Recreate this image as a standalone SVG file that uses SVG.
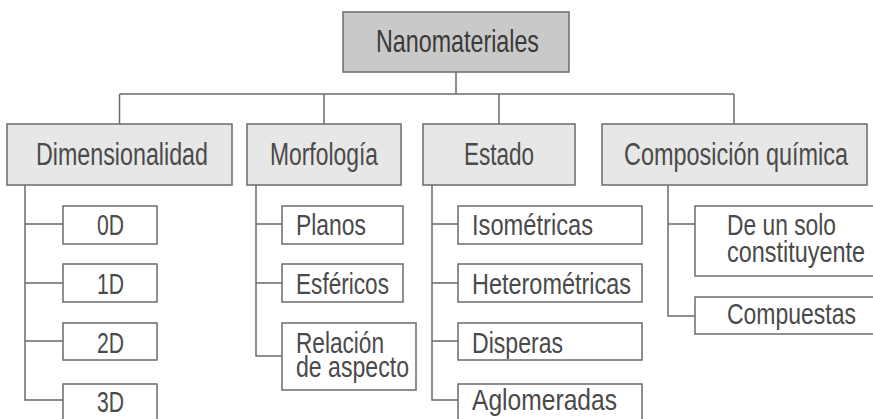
<svg xmlns="http://www.w3.org/2000/svg" width="873" height="419" viewBox="0 0 873 419">
<style>
.b{stroke:#6b6b6b;stroke-width:1.5;fill:#fff}
.top{fill:#c9c9c9}
.l2{fill:#e6e7e6}
.c line,.c path{stroke:#6b6b6b;stroke-width:1.5;fill:none}
text{font-family:"Liberation Sans Narrow","Liberation Sans",Arial,sans-serif;fill:#4a4a4a;font-size:29px}
.t2{font-size:31px}
.t1{font-size:32px;fill:#3a3a3a}
</style>
<rect width="873" height="419" fill="#fff"/>
<g class="c" id="connectors">
<line x1="456" y1="72" x2="456" y2="94"/>
<line x1="119.5" y1="94" x2="734" y2="94"/>
<line x1="119.5" y1="94" x2="119.5" y2="124"/>
<line x1="324" y1="94" x2="324" y2="124"/>
<line x1="499" y1="94" x2="499" y2="124"/>
<line x1="734" y1="94" x2="734" y2="124"/>
<path d="M25 185V400H63M25 224H63M25 283H63M25 341H63"/>
<path d="M256 185V356H282M256 224H282M256 283H282"/>
<path d="M432 185V400H458M432 224H458M432 283H458M432 341H458"/>
<path d="M668 185V316H695M668 224H695"/>
</g>
<g id="n-nanomateriales"><rect class="b top" x="343" y="12" width="226" height="60"/><text class="t1" x="376" y="52" textLength="163" lengthAdjust="spacingAndGlyphs">Nanomateriales</text></g>
<g id="n-dimensionalidad"><rect class="b l2" x="7" y="124" width="225" height="61"/><text class="t2" x="36" y="165" textLength="172" lengthAdjust="spacingAndGlyphs">Dimensionalidad</text></g>
<g id="n-morfologia"><rect class="b l2" x="247" y="124" width="154" height="61"/><text class="t2" x="270" y="165" textLength="108" lengthAdjust="spacingAndGlyphs">Morfología</text></g>
<g id="n-estado"><rect class="b l2" x="423" y="124" width="152" height="61"/><text class="t2" x="464" y="165" textLength="70" lengthAdjust="spacingAndGlyphs">Estado</text></g>
<g id="n-composicion"><rect class="b l2" x="602" y="124" width="265" height="61"/><text class="t2" x="624" y="165" textLength="224" lengthAdjust="spacingAndGlyphs">Composición química</text></g>
<g id="n-0d"><rect class="b" x="63" y="206" width="94" height="38"/><text x="110.5" y="235" text-anchor="middle" textLength="27" lengthAdjust="spacingAndGlyphs">0D</text></g>
<g id="n-1d"><rect class="b" x="63" y="264" width="94" height="38"/><text x="110.5" y="294" text-anchor="middle" textLength="27" lengthAdjust="spacingAndGlyphs">1D</text></g>
<g id="n-2d"><rect class="b" x="63" y="323" width="94" height="37"/><text x="110.5" y="353" text-anchor="middle" textLength="27" lengthAdjust="spacingAndGlyphs">2D</text></g>
<g id="n-3d"><rect class="b" x="63" y="384" width="94" height="40"/><text x="110.5" y="412" text-anchor="middle" textLength="27" lengthAdjust="spacingAndGlyphs">3D</text></g>
<g id="n-planos"><rect class="b" x="282" y="206" width="121" height="38"/><text x="296" y="235" textLength="70" lengthAdjust="spacingAndGlyphs">Planos</text></g>
<g id="n-esfericos"><rect class="b" x="282" y="264" width="121" height="38"/><text x="296" y="294" textLength="93" lengthAdjust="spacingAndGlyphs">Esféricos</text></g>
<g id="n-relacion"><rect class="b" x="282" y="323" width="134" height="67"/><text x="296" y="353" textLength="88" lengthAdjust="spacingAndGlyphs">Relación</text><text x="296" y="377" textLength="113" lengthAdjust="spacingAndGlyphs">de aspecto</text></g>
<g id="n-isometricas"><rect class="b" x="458" y="206" width="184" height="38"/><text x="472" y="235" textLength="121" lengthAdjust="spacingAndGlyphs">Isométricas</text></g>
<g id="n-heterometricas"><rect class="b" x="458" y="264" width="184" height="38"/><text x="472" y="294" textLength="159" lengthAdjust="spacingAndGlyphs">Heterométricas</text></g>
<g id="n-disperas"><rect class="b" x="458" y="323" width="184" height="37"/><text x="472" y="353" textLength="91" lengthAdjust="spacingAndGlyphs">Disperas</text></g>
<g id="n-aglomeradas"><rect class="b" x="458" y="384" width="184" height="40"/><text x="472" y="410" textLength="145" lengthAdjust="spacingAndGlyphs">Aglomeradas</text></g>
<g id="n-desolo"><rect class="b" x="695" y="206" width="190" height="70"/><text x="727" y="235" textLength="109" lengthAdjust="spacingAndGlyphs">De un solo</text><text x="727" y="262" textLength="138" lengthAdjust="spacingAndGlyphs">constituyente</text></g>
<g id="n-compuestas"><rect class="b" x="695" y="297" width="190" height="37"/><text x="727" y="324" textLength="129" lengthAdjust="spacingAndGlyphs">Compuestas</text></g>
</svg>
